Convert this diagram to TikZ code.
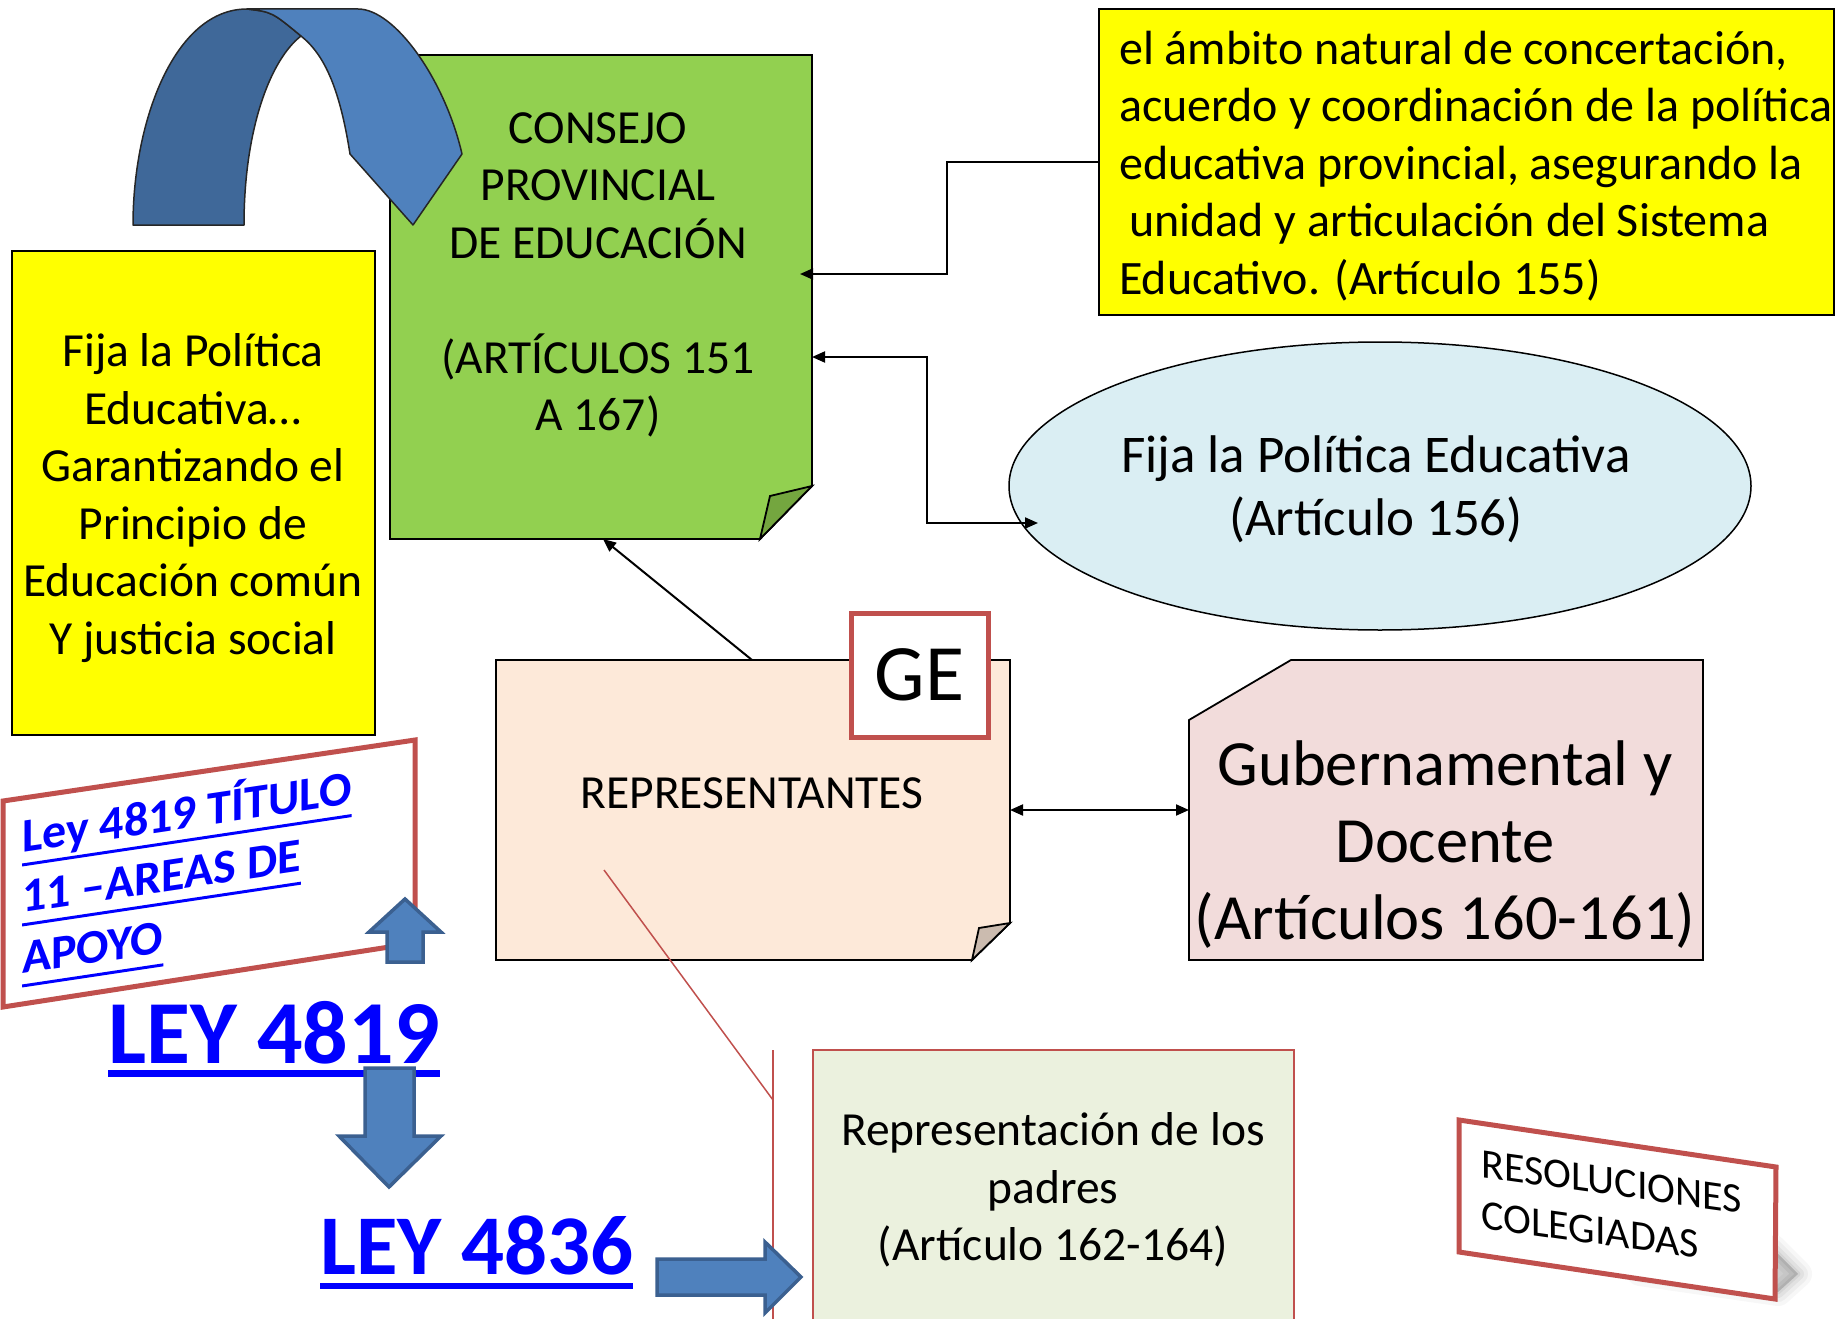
\documentclass[tikz,border=0pt]{standalone}
\usepackage{fontspec}
\setmainfont{Carlito}
\usetikzlibrary{arrows.meta,shapes.geometric,calc}
\definecolor{cgreen}{HTML}{92D050}
\definecolor{cgreenfold}{HTML}{74A63F}
\definecolor{cyel}{HTML}{FFFF00}
\definecolor{cpeach}{HTML}{FDE9D9}
\definecolor{cpeachfold}{HTML}{CBBBAF}
\definecolor{cell}{HTML}{DAEEF3}
\definecolor{cpink}{HTML}{F2DCDB}
\definecolor{cpale}{HTML}{EBF1DE}
\definecolor{cred}{HTML}{C0504D}
\definecolor{cblue}{HTML}{0000FF}
\definecolor{barrow}{HTML}{4F81BD}
\definecolor{barrowdk}{HTML}{3F6899}
\definecolor{barrowline}{HTML}{3B6090}
\newcommand{\ulbox}[3]{\setbox0=\hbox{#3}\rlap{\rule[-#1]{\wd0}{#2}}\box0}
\tikzset{
  txt/.style={font=\fontsize{47.5}{57.5}\selectfont, align=center, inner sep=0pt},
  boxline/.style={line width=1.8pt, draw=black},
  conn/.style={line width=2pt, -{Triangle[length=13pt,width=11pt]}},
  conntwo/.style={line width=2pt, {Triangle[length=13pt,width=11pt]}-{Triangle[length=13pt,width=11pt]}},
  blockarrow/.style={fill=barrow, draw=barrowline, line width=3.5pt, line join=miter},
  redframe/.style={draw=cred, line width=5pt, fill=white, line join=miter},
}
\begin{document}
\begin{tikzpicture}[x=1pt,y=-1pt]
\useasboundingbox (0,0) rectangle (1837,1319);

% ---------- Consejo (green page) ----------
\draw[boxline, fill=cgreen] (390,55) -- (812,55) -- (812,486) -- (760,539) -- (390,539) -- cycle;
\draw[boxline, fill=cgreenfold] (812,486) -- (770,496) -- (760,539) -- cycle;
\node[txt] (consejo) at (598,275) {CONSEJO\\PROVINCIAL\\DE EDUCACIÓN\\[57.5pt](ARTÍCULOS 151\\A 167)};

% ---------- curved blue arrow ----------
\draw[fill=barrowdk, draw=black!85, line width=1.5pt, line join=round]
  (133,225) -- (244,225) .. controls (244,130) and (270,60) .. (301,36)
  .. controls (272,12) .. (247,9) .. controls (175,9) and (133,120) .. (133,225) -- cycle;
\draw[fill=barrow, draw=black!85, line width=1.5pt, line join=round]
  (247,9) -- (358,9) .. controls (395,9) and (445,80) .. (462,154)
  -- (413,225) -- (350,154) .. controls (340,90) and (325,55) .. (301,36)
  .. controls (272,12) .. (247,9) -- cycle;

% ---------- left yellow box ----------
\node[boxline, fill=cyel, minimum width=363pt, minimum height=484pt, inner sep=0pt] (fijaL) at (193.5,493) {};
\node[txt] (fijaLtxt) at (193,498)
  {Fija la Política\\Educativa…\\Garantizando el\\Principio de\\Educación común\\Y justicia social};

% ---------- top right yellow box ----------
\node[boxline, fill=cyel, minimum width=735pt, minimum height=306pt, inner sep=0pt] (ambito) at (1466.5,162) {};
\node[font=\fontsize{48}{57.5}\selectfont, inner sep=0pt, align=left, anchor=west] (ambitotxt) at (1119,166)
  {el ámbito natural de concertación,\\acuerdo y coordinación de la política\\educativa provincial, asegurando la\\\hspace*{10pt}unidad y articulación del Sistema\\Educativo. (Artículo 155)};

% ---------- ellipse ----------
\node[ellipse, boxline, line width=1.5pt, fill=cell, minimum width=742pt, minimum height=288pt, inner sep=0pt] (fija) at (1380,486) {};
\node[font=\fontsize{53}{63}\selectfont, align=center, inner sep=0pt] (fijatxt) at (1376,489)
  {Fija la Política Educativa\\(Artículo 156)};

% ---------- Representantes ----------
\draw[boxline, fill=cpeach] (496,660) -- (1010,660) -- (1010,923) -- (972,960) -- (496,960) -- cycle;
\draw[boxline, fill=cpeachfold] (1010,923) -- (979,928) -- (972,960) -- cycle;
\node[txt] (rep) at (752,793) {REPRESENTANTES};
\node[redframe, minimum width=137pt, minimum height=124pt, inner sep=0pt, font=\fontsize{80}{90}\selectfont] (ge) at (919.5,675) {GE};

% ---------- Gubernamental ----------
\draw[boxline, fill=cpink] (1189,720) -- (1291,660) -- (1703,660) -- (1703,960) -- (1189,960) -- cycle;
\node[font=\fontsize{64.5}{77}\selectfont, align=center, inner sep=0pt] (gub) at (1445,845)
  {Gubernamental y\\Docente\\(Artículos 160-161)};

% ---------- Representación de los padres ----------
\draw[draw=cred, line width=2pt, fill=cpale] (813,1050) rectangle (1294,1335);
\node[txt] (padres) at (1053,1190) {Representación de los\\padres\\(Artículo 162-164)};
\coordinate (callA) at (604,870);
\coordinate (callB) at (773,1100);
\coordinate (callTop) at (773,1050);
\coordinate (callBot) at (773,1335);
\draw[cred, line width=1.5pt] (callA) -- (callB);
\draw[cred, line width=2pt] (callTop) -- (callBot);

% ---------- connectors ----------
\coordinate (c1) at (800,274);
\coordinate (c2) at (812,357);
\coordinate (c3) at (1038,523);
\coordinate (c4) at (752,660);
\coordinate (c5) at (603,539);
\coordinate (c6) at (1010,810);
\coordinate (c7) at (1189,810);
\draw[conn] (ambito.west) -- ++(-151,0) |- (c1);
\draw[conntwo] (c2) -- ++(115,0) |- (c3);
\draw[conn] (c4) -- (c5);
\draw[conntwo] (c6) -- (c7);

% ---------- Ley 4819 titulo box ----------
\draw[redframe] (3,801) -- (415,740) -- (415,943) -- (3,1007) -- cycle;
\begin{scope}[shift={(22,853)}, yslant=0.15]
  \node[anchor=base west, inner sep=0pt, transform shape, text=cblue, font=\bfseries\fontsize{48}{57}\selectfont] (lt1) at (0,0) {\ulbox{13.5pt}{3pt}{Ley 4819 TÍTULO}};
  \node[anchor=base west, inner sep=0pt, transform shape, text=cblue, font=\bfseries\fontsize{48}{57}\selectfont] (lt2) at (0,60) {\ulbox{13.5pt}{3pt}{11 –AREAS DE}};
  \node[anchor=base west, inner sep=0pt, transform shape, text=cblue, font=\bfseries\fontsize{48}{57}\selectfont] (lt3) at (0,121) {\ulbox{13.5pt}{3pt}{APOYO}};
\end{scope}
\draw[blockarrow] (387,962) -- (423,962) -- (423,932) -- (441,932) -- (405,899) -- (369,932) -- (387,932) -- cycle;

% ---------- LEY 4819 / LEY 4836 ----------
\node[anchor=base west, inner sep=0pt, text=cblue, font=\bfseries\fontsize{90}{100}\selectfont] (ley4819) at (108,1063) {\ulbox{14pt}{7pt}{LEY 4819}};
\draw[blockarrow] (365,1068) -- (414,1068) -- (414,1136) -- (441,1136) -- (389,1187) -- (339,1136) -- (365,1136) -- cycle;
\node[anchor=base west, inner sep=0pt, text=cblue, font=\bfseries\fontsize{85}{100}\selectfont] (ley4836) at (320,1274) {\ulbox{15pt}{6pt}{LEY 4836}};
\draw[blockarrow] (657,1259) -- (765,1259) -- (765,1242) -- (801,1277) -- (765,1313) -- (765,1295) -- (657,1295) -- cycle;

% ---------- Resoluciones colegiadas ----------
\foreach \w/\o in {28/0.03,20/0.04,12/0.05,5/0.06}{
  \draw[black, opacity=\o, line width=\w pt, line join=round, fill=black]
    (1640,1272) -- (1772,1248) -- (1798,1274) -- (1778,1292) -- cycle;
}
\draw[redframe] (1459,1120) -- (1776,1167) -- (1775,1299) -- (1459,1252) -- cycle;
\begin{scope}[shift={(1481,1177)}, yslant=-0.14]
  \node[anchor=base west, inner sep=0pt, transform shape, font=\fontsize{42}{50}\selectfont] (res1) at (0,0) {RESOLUCIONES};
  \node[anchor=base west, inner sep=0pt, transform shape, font=\fontsize{42}{50}\selectfont] (res2) at (0,51) {COLEGIADAS};
\end{scope}
\end{tikzpicture}
\end{document}
